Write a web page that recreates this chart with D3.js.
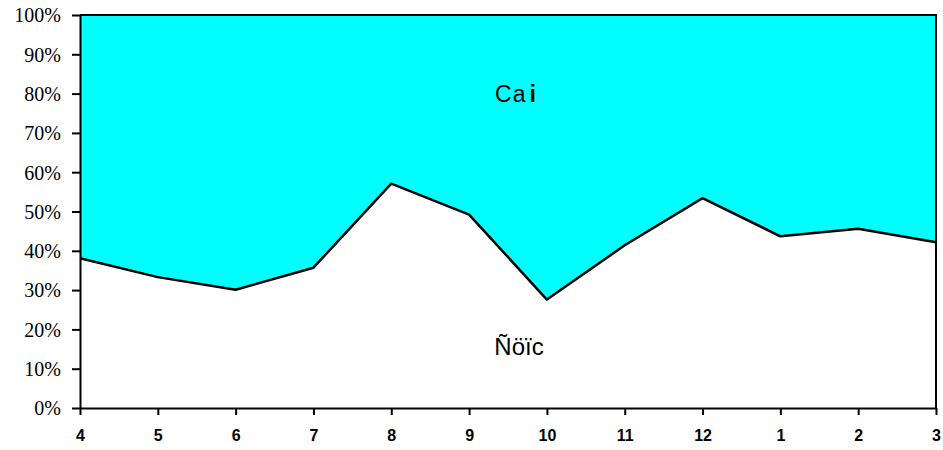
<!DOCTYPE html>
<html>
<head>
<meta charset="utf-8">
<script src="https://cdn.jsdelivr.net/npm/d3@7"></script>
<style>
  html, body { margin: 0; padding: 0; background: #fff; }
  svg { display: block; }
</style>
</head>
<body>
<svg id="chart" width="943" height="450"></svg>
<script>
// Months (April through March) and share of the lower series, in percent
const months = ["4", "5", "6", "7", "8", "9", "10", "11", "12", "1", "2", "3"];
const lowerShare = [38.1, 33.3, 30.1, 35.7, 57.1, 49.2, 27.6, 41.4, 53.4, 43.7, 45.6, 42.2];
const yTicks = [0, 10, 20, 30, 40, 50, 60, 70, 80, 90, 100];
const upperLabel = "Ca";
const upperLabelTail = "i";
const lowerLabel = "Ñöïc";

const svg = d3.select("#chart");
const margin = { left: 80, right: 7, top: 15, bottom: 42 };
const W = 943, H = 450;

const x = d3.scalePoint().domain(months).range([margin.left, W - margin.right]);
const y = d3.scaleLinear().domain([0, 100]).range([H - margin.bottom, margin.top]);

const rows = months.map((m, i) => ({ m, v: lowerShare[i] }));

// upper band: from the line up to 100%
svg.append("path")
  .datum(rows)
  .attr("fill", "#00ffff")
  .attr("d", d3.area().x(d => x(d.m)).y0(y(100)).y1(d => y(d.v)));

// lower band: from 0 up to the line
svg.append("path")
  .datum(rows)
  .attr("fill", "#ffffff")
  .attr("d", d3.area().x(d => x(d.m)).y0(y(0)).y1(d => y(d.v)));

// boundary line
svg.append("path")
  .datum(rows)
  .attr("fill", "none")
  .attr("stroke", "#000")
  .attr("stroke-width", 2.5)
  .attr("stroke-linejoin", "round")
  .attr("d", d3.line().x(d => x(d.m)).y(d => y(d.v)));

// top and right edges of the plotted area
svg.append("path")
  .attr("fill", "none")
  .attr("stroke", "#000")
  .attr("stroke-width", 2)
  .attr("d", `M${x(months[0])},${y(100)}H${x(months[months.length - 1])}V${y(0)}`);

// y axis
const yAxis = svg.append("g")
  .attr("transform", `translate(${margin.left},0)`)
  .call(d3.axisLeft(y).tickValues(yTicks).tickFormat(d => d + "%").tickSize(8).tickSizeOuter(0));
yAxis.select(".domain").attr("stroke-width", 2);
yAxis.selectAll(".tick line").attr("stroke-width", 2);
yAxis.selectAll(".tick text")
  .attr("x", -19)
  .attr("dy", "0.34em")
  .style("font-family", "'Liberation Serif', 'Times New Roman', serif")
  .style("font-size", "20px")
  .attr("fill", "#000");

// x axis
const xAxis = svg.append("g")
  .attr("transform", `translate(0,${y(0)})`)
  .call(d3.axisBottom(x).tickSize(7).tickSizeOuter(0));
xAxis.select(".domain").attr("stroke-width", 2);
xAxis.selectAll(".tick line").attr("stroke-width", 2);
xAxis.selectAll(".tick text")
  .attr("y", 22)
  .attr("dy", "0.71em")
  .style("font-family", "'Liberation Sans', Arial, sans-serif")
  .style("font-size", "16px")
  .style("font-weight", "bold")
  .attr("fill", "#000");

// band labels
const upper = svg.append("text")
  .attr("x", 516).attr("y", 102)
  .attr("text-anchor", "middle")
  .style("font-family", "'Liberation Sans', Arial, sans-serif")
  .style("font-size", "23px")
  .attr("letter-spacing", "1px")
  .attr("fill", "#000");
upper.append("tspan").text(upperLabel);
upper.append("tspan").style("font-weight", "bold").attr("dx", 3).text(upperLabelTail);

svg.append("text")
  .attr("x", 519).attr("y", 355)
  .attr("text-anchor", "middle")
  .style("font-family", "'Liberation Sans', Arial, sans-serif")
  .style("font-size", "24px")
  .attr("fill", "#000")
  .text(lowerLabel);
</script>
</body>
</html>
